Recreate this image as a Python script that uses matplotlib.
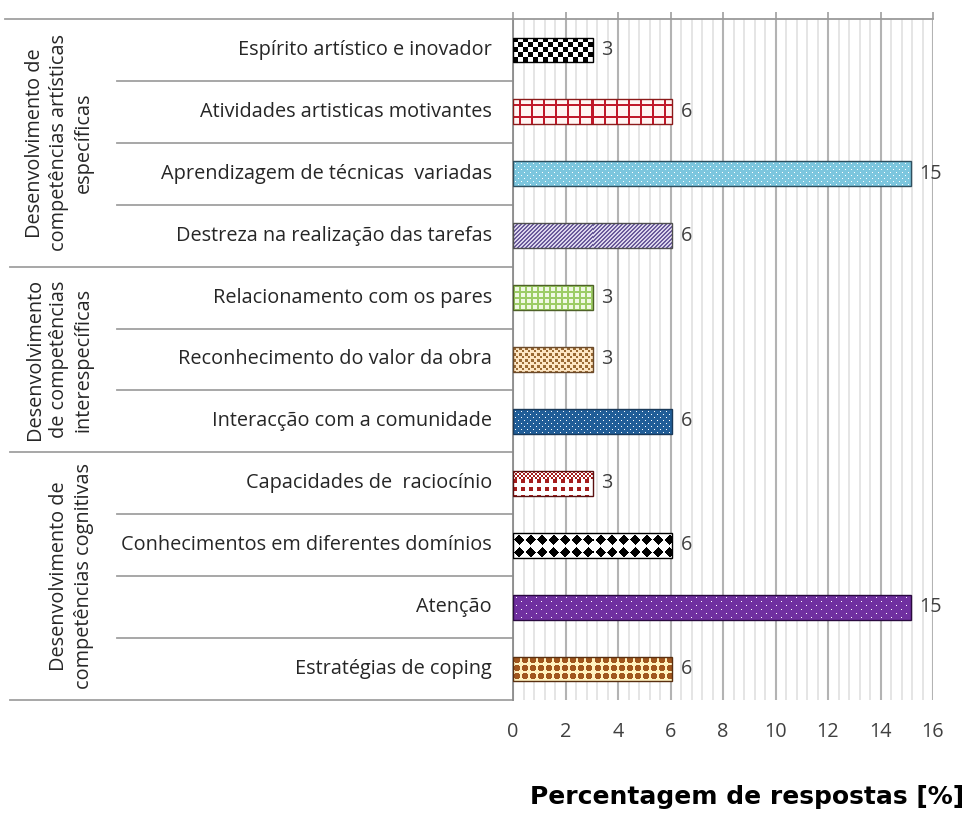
import numpy as np
import matplotlib
matplotlib.use("Agg")
import matplotlib.pyplot as plt
from matplotlib.ticker import MultipleLocator
from matplotlib.transforms import blended_transform_factory
from matplotlib.colors import to_rgb

# ---------------- data ----------------
categories = [
    "Espírito artístico e inovador",
    "Atividades artisticas motivantes",
    "Aprendizagem de técnicas  variadas",
    "Destreza na realização das tarefas",
    "Relacionamento com os pares",
    "Reconhecimento do valor da obra",
    "Interacção com a comunidade",
    "Capacidades de  raciocínio",
    "Conhecimentos em diferentes domínios",
    "Atenção",
    "Estratégias de coping",
]
values = [3.03, 6.06, 15.15, 6.06, 3.03, 3.03, 6.06, 3.03, 6.06, 15.15, 6.06]
groups = [
    "Desenvolvimento de\ncompetências artísticas\nespecíficas",
    "Desenvolvimento\nde competências\ninterespecíficas",
    "Desenvolvimento de\ncompetências cognitivas",
]
group_sizes = [4, 3, 4]
xticks = [0, 2, 4, 6, 8, 10, 12, 14, 16]
xlabel = "Percentagem de respostas [%]"

# ---------------- styles ----------------
patterns = [
    ("checker", "#000000", "#ffffff", "#000000"),
    ("grid", "#c0182a", "#fff4f2", "#8b1a1a"),
    ("dots", "#ffffff", "#7cc6de", "#2f4f5f"),
    ("diag", "#6a5a9a", "#dcd6ec", "#505050"),
    ("smallgrid", "#9ccc65", "#f0f8e4", "#4f6228"),
    ("bigdots", "#9a6a34", "#fde6c4", "#6b4a2a"),
    ("dots", "#ffffff", "#215e98", "#1a3a5a"),
    ("plaid", "#a51c1c", "#ffffff", "#5a1010"),
    ("diamond", "#000000", "#ffffff", "#000000"),
    ("sparsedots", "#ffffff", "#7030a0", "#2a0a40"),
    ("sphere", "#a0561e", "#fff2c0", "#5a3010"),
]


def make_pattern(kind, fg, bg, h, w):
    yy, xx = np.mgrid[0:h, 0:w]
    fgc = np.array(to_rgb(fg))
    bgc = np.array(to_rgb(bg))
    if kind == "checker":
        s = 5
        m = ((yy // s + xx // s) % 2) == 0
    elif kind == "grid":
        s = 12
        m = ((xx - 6) % s < 2) | ((yy - 5) % s < 2)
    elif kind == "smallgrid":
        s = 6
        m = (xx % s < 1.5) | (yy % s < 1.5)
    elif kind == "dots":
        m = ((yy % 6 == 2) & (xx % 6 == 2)) | ((yy % 6 == 5) & (xx % 6 == 5))
    elif kind == "sparsedots":
        m = ((yy % 8 == 2) & (xx % 10 == 3)) | ((yy % 8 == 6) & (xx % 10 == 8))
    elif kind == "bigdots":
        m = (((yy % 6) < 3) & ((xx % 6) < 3)) | ((((yy + 3) % 6) < 2) & (((xx + 3) % 6) < 2))
    elif kind == "diag":
        m = ((xx + yy) % 4) < 1.5
    elif kind == "plaid":
        top = yy < h * 0.3
        m = np.where(top, ((yy // 2 + xx // 2) % 2) == 0,
                     (((xx // 4) % 2) == 0) & (((yy // 4) % 2) == 0))
    elif kind == "diamond":
        sx = 11.5
        sy = h / 2.0
        cx = (xx % sx) - sx / 2
        cy = (yy % sy) - sy / 2
        m = (np.abs(cx) / 5.0 + np.abs(cy) / 5.0) <= 1.0
    elif kind == "sphere":
        s = 8
        cx = (xx % s) - s / 2 + 0.5
        cy = (yy % s) - s / 2 + 0.5
        r = np.sqrt(cx ** 2 + cy ** 2)
        m = r < 3.3
    else:
        m = np.zeros((h, w), bool)
    img = np.where(m[..., None], fgc, bgc)
    return img


# ---------------- figure ----------------
W, H = 965, 814
fig = plt.figure(figsize=(W / 100, H / 100), dpi=100)
ax_left, ax_right, ax_top, ax_bottom = 513, 933, 19, 700
ax = fig.add_axes([ax_left / W, 1 - ax_bottom / H, (ax_right - ax_left) / W,
                   (ax_bottom - ax_top) / H])

font = "Open Sans"
fs = 14.3
n = len(categories)
ypos = np.arange(n)
bh = 0.4

ax.set_xlim(0, 16)
ax.set_ylim(n - 0.5, -0.5)

bars = ax.barh(ypos, values, height=bh, color=[p[2] for p in patterns],
               edgecolor="none", zorder=2)

fig.canvas.draw()
for b, (kind, fg, bg, ec), v, y in zip(bars, patterns, values, ypos):
    p0 = ax.transData.transform((0, y - bh / 2))
    p1 = ax.transData.transform((v, y + bh / 2))
    w = max(1, int(round(abs(p1[0] - p0[0]))))
    h = max(1, int(round(abs(p1[1] - p0[1]))))
    img = make_pattern(kind, fg, bg, h, w)
    im = ax.imshow(img, extent=(0, v, y + bh / 2, y - bh / 2), aspect="auto",
                   interpolation="nearest", zorder=2.5)
    im.set_clip_path(b)

ax.barh(ypos, values, height=bh, fill=False,
        edgecolor=[p[3] for p in patterns], linewidth=1.0, zorder=3)
ax.set_xlim(0, 16)
ax.set_ylim(n - 0.5, -0.5)
ax.set_aspect("auto")

# value labels
for v, y in zip(values, ypos):
    ax.annotate(f"{v:.0f}", (v, y), xytext=(6, 0), textcoords="offset points",
                ha="left", va="center", fontsize=fs, family=font, color="#404040")

# grid & axes
ax.set_xticks(xticks)
ax.set_xticklabels([str(t) for t in xticks], family=font, fontsize=fs,
                   color="#404040")
ax.xaxis.set_minor_locator(MultipleLocator(0.4))
ax.set_yticks([])
ax.grid(which="major", axis="x", color="#b3b3b3", linewidth=1.5, zorder=0)
ax.grid(which="minor", axis="x", color="#dedede", linewidth=1.1, zorder=0)
ax.set_axisbelow(True)
ax.tick_params(axis="x", which="major", direction="out", length=5, width=1.3,
               color="#a6a6a6", top=True, bottom=False, labeltop=False,
               labelbottom=True, pad=11)
ax.tick_params(axis="x", which="minor", length=0, top=False, bottom=False)
for s in ["right", "bottom"]:
    ax.spines[s].set_visible(False)
ax.spines["top"].set_color("#9a9a9a")
ax.spines["top"].set_linewidth(1.3)
ax.spines["left"].set_color("#8c8c8c")
ax.spines["left"].set_linewidth(1.3)

tr = blended_transform_factory(ax.transAxes, ax.transData)
axw = ax_right - ax_left

# category labels
for c, y in zip(categories, ypos):
    ax.text(-21 / axw, y, c, transform=tr,
            ha="right", va="center", fontsize=fs, family=font, color="#262626")

# separators in label area
ax.plot([(5 - ax_left) / axw, 0], [-0.5, -0.5], transform=tr, color="#a0a0a0",
        lw=1.3, clip_on=False)
start = 0
for gi, gs in enumerate(group_sizes):
    end = start + gs
    ax.plot([(10 - ax_left) / axw, 0], [end - 0.5, end - 0.5], transform=tr,
            color="#a0a0a0", lw=1.3, clip_on=False)
    for k in range(start + 1, end):
        ax.plot([(117 - ax_left) / axw, 0], [k - 0.5, k - 0.5], transform=tr,
                color="#a0a0a0", lw=1.3, clip_on=False)
    ax.text((94 - ax_left) / axw, (start + end - 1) / 2, groups[gi], transform=tr,
            rotation=90, ha="right", va="center", multialignment="center",
            fontsize=fs, family=font, color="#262626", linespacing=1.3)
    start = end

fig.text(964 / W, 1 - 797 / H, xlabel, ha="right", va="center",
         fontsize=18, fontweight="bold", family="DejaVu Sans", color="#000000")

fig.savefig("out.png", dpi=100)
